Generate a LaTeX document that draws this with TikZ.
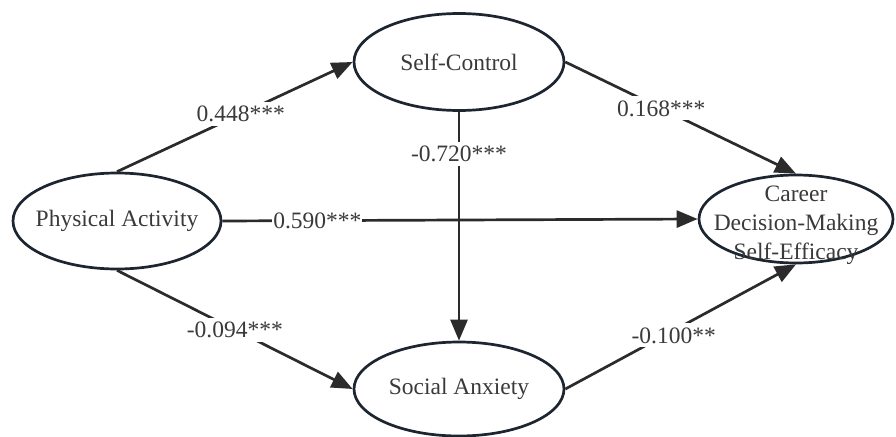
\documentclass[tikz,border=0pt]{standalone}
\usepackage{fontspec}
\setmainfont{Liberation Serif}
\usetikzlibrary{shapes.geometric,arrows.meta}
\definecolor{edgecol}{HTML}{2B2B2B}
\definecolor{txtcol}{HTML}{3A3A3A}
\definecolor{ellcol}{HTML}{1C2530}
\begin{document}
\begin{tikzpicture}[x=1pt,y=-1pt,
  ell/.style={ellipse,draw=ellcol,line width=2.7pt,fill=white,inner sep=0pt},
  txt/.style={text=txtcol,font=\fontsize{23.5}{29}\selectfont,align=center},
  path/.style={draw=edgecol,line width=2.7pt,-{Triangle[length=21pt,width=17pt]}},
  coef/.style={fill=white,text=txtcol,font=\fontsize{23.5}{29}\selectfont,inner sep=4pt}]
\useasboundingbox (0,0) rectangle (896,436);
\node[ell,minimum width=208,minimum height=96,label={[txt]center:Physical Activity}] (PA) at (117,221) {};
\node[ell,minimum width=210,minimum height=97,label={[txt]center:Self-Control}] (SC) at (459,62) {};
\node[ell,minimum width=210,minimum height=94,label={[txt]center:Social Anxiety}] (SA) at (459,389) {};
\node[ell,minimum width=194,minimum height=88] (CD) at (796,219) {};
\node[txt] (CDt) at (796,225) {Career\\Decision-Making\\Self-Efficacy};
\draw[path] (PA.north) -- node[coef,pos=0.525]{0.448***} (SC.west);
\draw[path] (PA.south) -- node[coef,pos=0.5]{-0.094***} (SA.west);
\draw[path] (PA.east) -- node[coef,pos=0.2,inner sep=1pt]{0.590***} (CD.west);
\draw[path] (SC.south) -- node[coef,pos=0.185]{-0.720***} (SA.north);
\draw[path] (SC.east) -- node[coef,pos=0.416]{0.168***} (CD.north);
\draw[path] (SA.east) -- node[coef,pos=0.47,yshift=-5pt]{-0.100**} (CD.south);
\end{tikzpicture}
\end{document}
